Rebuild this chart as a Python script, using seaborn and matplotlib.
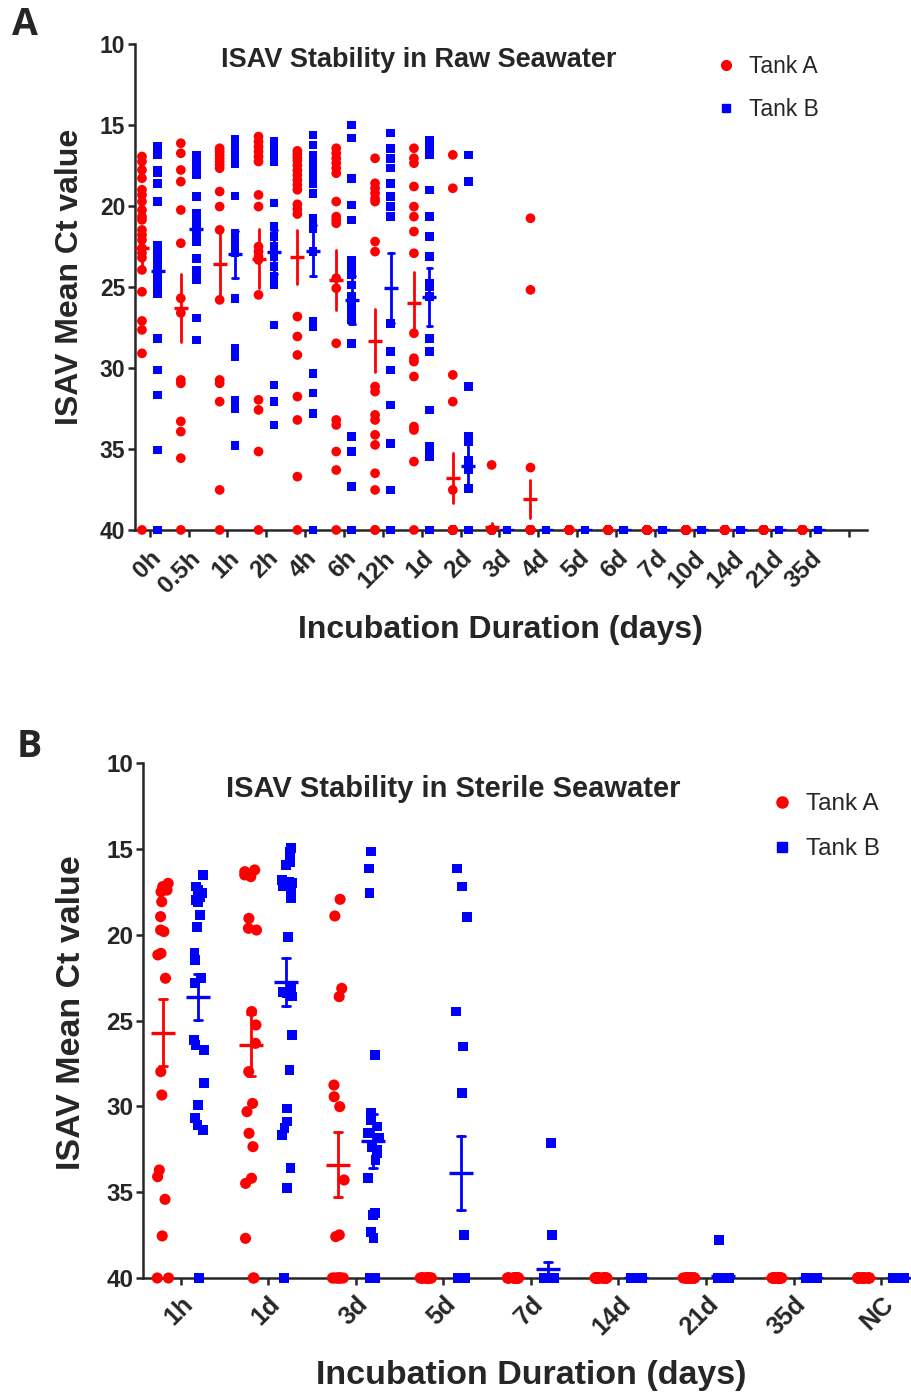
import matplotlib
matplotlib.use("Agg")
import matplotlib.pyplot as plt
from matplotlib.lines import Line2D
import numpy as np
import pandas as pd
import seaborn as sns

# --- data (Ct values, 40 = not detected) ---
raw_times = ["0h", "0.5h", "1h", "2h", "4h", "6h", "12h", "1d", "2d", "3d", "4d",
             "5d", "6d", "7d", "10d", "14d", "21d", "35d"]

raw_tank_a = {
    "0h": [16.95, 17.26, 17.78, 18.29, 19.0, 19.32, 19.73, 20.25, 20.66, 20.86, 21.48,
           21.79, 22.1, 22.6, 22.9, 23.2, 23.95, 25.3, 27.1, 27.65, 29.1, 40],
    "0.5h": [16.13, 16.75, 17.78, 18.5, 20.25, 22.3, 25.7, 26.6, 30.74, 30.95, 33.3,
             33.93, 35.57, 40],
    "1h": [16.44, 16.64, 16.85, 17.06, 17.26, 17.47, 17.67, 19.11, 20.04, 21.48, 25.8,
           30.74, 30.95, 32.08, 37.53, 40],
    "2h": [15.72, 16.03, 16.34, 16.64, 16.95, 17.26, 19.32, 20.04, 22.51, 22.82, 23.13,
           23.33, 25.49, 31.97, 32.59, 35.16, 40],
    "4h": [16.6, 16.8, 17.0, 17.2, 17.5, 17.8, 18.1, 18.4, 18.7, 19.0, 19.9, 20.2, 20.5,
           26.83, 28.06, 29.2, 31.77, 33.21, 36.71, 40],
    "6h": [16.44, 16.75, 17.06, 17.36, 17.67, 17.98, 19.73, 20.66, 20.86, 21.07, 24.46,
           25.08, 28.48, 33.21, 33.52, 35.16, 36.3, 40],
    "12h": [17.06, 18.6, 18.91, 19.22, 19.53, 19.73, 22.2, 22.82, 31.15, 31.46, 32.9,
            33.21, 34.13, 34.75, 36.5, 37.53, 40, 40],
    "1d": [16.44, 17.06, 17.36, 18.8, 20.04, 20.66, 21.58, 22.92, 27.86, 29.4, 29.61,
           30.53, 33.62, 33.83, 35.78, 40],
    "2d": [16.85, 18.91, 30.43, 32.08, 37.53] + [40] * 15,
    "3d": [35.99] + [40] * 19,
    "4d": [20.76, 25.18, 36.15] + [40] * 17,
    "5d": [40] * 20,
    "6d": [40] * 20,
    "7d": [40] * 20,
    "10d": [40] * 20,
    "14d": [40] * 20,
    "21d": [40] * 20,
    "35d": [40] * 20,
}

raw_tank_b = {
    "0h": [16.34, 16.64, 16.85, 17.78, 17.98, 18.6, 19.73, 22.4, 22.71, 23.13, 23.54,
           23.95, 24.36, 24.77, 24.98, 25.4, 28.17, 30.12, 31.66, 35.06, 40],
    "0.5h": [16.85, 17.16, 17.47, 17.78, 18.09, 19.42, 20.45, 20.76, 21.17, 21.48, 21.79,
             22.2, 23.23, 23.95, 24.26, 24.57, 26.93, 28.27],
    "1h": [15.9, 16.2, 16.5, 16.8, 17.1, 17.4, 19.4, 21.7, 22.0, 22.3, 22.6, 22.9, 25.7,
           28.8, 29.3, 32.0, 32.5, 34.8],
    "2h": [16.03, 16.34, 16.64, 16.95, 17.26, 19.83, 21.27, 21.89, 22.51, 23.13, 23.74,
           24.36, 24.88, 27.34, 31.05, 32.08, 33.52],
    "4h": [15.62, 16.23, 16.85, 17.16, 17.47, 17.88, 18.29, 18.6, 19.22, 20.76, 21.07,
           21.38, 22.82, 27.14, 27.45, 30.33, 31.56, 32.8, 40],
    "6h": [15.0, 15.8, 18.29, 19.94, 20.86, 23.33, 23.64, 23.95, 24.26, 24.88, 25.6, 25.9,
           26.2, 26.52, 27.04, 28.48, 34.24, 35.16, 37.32, 40],
    "12h": [15.51, 16.44, 17.06, 17.67, 18.6, 19.42, 20.04, 20.66, 27.24, 28.99, 30.12,
            32.28, 34.65, 37.53, 40],
    "1d": [15.92, 16.23, 16.54, 16.85, 19.01, 20.66, 21.89, 23.13, 24.77, 24.98, 25.6,
           28.17, 28.99, 32.59, 34.85, 35.16, 35.47, 40],
    "2d": [16.85, 18.5, 31.15, 34.24, 34.55, 35.68, 35.99, 36.3, 37.43] + [40] * 11,
    "3d": [40] * 20,
    "4d": [40] * 20,
    "5d": [40] * 20,
    "6d": [40] * 20,
    "7d": [40] * 20,
    "10d": [40] * 20,
    "14d": [40] * 20,
    "21d": [40] * 20,
    "35d": [40] * 20,
}

sterile_times = ["1h", "1d", "3d", "5d", "7d", "14d", "21d", "35d", "NC"]

sterile_tank_a = {
    "1h": [17.01, 17.2, 17.4, 17.5, 18.08, 18.95, 19.73, 19.82, 21.09, 21.18, 22.54,
           27.98, 29.34, 33.71, 34.1, 35.42, 37.55, 40, 40],
    "1d": [16.23, 16.33, 16.43, 16.52, 16.62, 19.05, 19.63, 19.73, 24.48, 25.26, 26.33,
           27.98, 29.83, 30.31, 31.57, 32.35, 34.19, 34.49, 37.69, 40, 40],
    "3d": [17.94, 18.91, 23.13, 23.61, 28.76, 29.44, 30.02, 34.29, 37.49, 37.59] + [40] * 8,
    "5d": [40] * 20,
    "7d": [40] * 20,
    "14d": [40] * 20,
    "21d": [40] * 20,
    "35d": [40] * 20,
    "NC": [40] * 20,
}

sterile_tank_b = {
    "1h": [16.52, 17.2, 17.4, 17.59, 17.79, 17.98, 18.08, 18.85, 19.57, 21.09, 21.48,
           22.54, 22.83, 26.14, 26.43, 26.72, 28.66, 29.92, 30.7, 31.09, 31.38, 40],
    "1d": [14.97, 15.2, 15.46, 15.75, 15.94, 16.81, 16.9, 17.01, 17.1, 17.2, 17.4, 17.59,
           17.88, 20.12, 23.13, 23.32, 23.4, 23.6, 25.84, 27.88, 30.12, 30.89, 31.28,
           31.67, 33.61, 34.78, 40],
    "3d": [15.16, 16.14, 17.59, 27.01, 30.41, 30.8, 31.18, 31.57, 31.86, 32.35, 32.54,
           32.74, 33.13, 34.19, 36.23, 36.33, 37.3, 37.69] + [40] * 4,
    "5d": [16.14, 17.2, 18.95, 24.48, 26.52, 29.24, 37.49] + [40] * 11,
    "7d": [32.15, 37.49] + [40] * 18,
    "14d": [40] * 20,
    "21d": [37.79] + [40] * 19,
    "35d": [40] * 20,
    "NC": [40] * 20,
}

tanks = ["Tank A", "Tank B"]
colors = {"Tank A": "#FF0000", "Tank B": "#0000FF"}
hidden = (1.0, 1.0, 1.0, 0.0)


def to_long(times, tank_a, tank_b):
    rows = []
    for tank, d in zip(tanks, [tank_a, tank_b]):
        for t in times:
            for v in d[t]:
                rows.append({"time": t, "tank": tank, "ct": v})
    return pd.DataFrame(rows)


sns.set_style("ticks")
plt.rcParams["font.family"] = ["Liberation Sans", "DejaVu Sans"]
plt.rcParams["font.weight"] = "bold"

np.random.seed(3)

fig = plt.figure(figsize=(9.12, 13.99), dpi=100)
ax1 = fig.add_axes([0.148, 0.6212, 0.8026, 0.3474])
ax2 = fig.add_axes([0.1568, 0.0865, 0.841, 0.3681])


def draw_panel(ax, df, times, jitter, pt_size, mean_size, caps):
    for tank, marker, sz in [("Tank A", "o", pt_size), ("Tank B", "s", pt_size * 0.88)]:
        sns.stripplot(data=df[df.tank == tank], x="time", y="ct", hue="tank",
                      order=times, hue_order=tanks, palette=colors, dodge=True,
                      jitter=jitter, marker=marker, size=sz, linewidth=0,
                      legend=False, clip_on=False, zorder=3, ax=ax)
    # mean +/- SEM, one pass per tank so the cap width can differ
    for tank in tanks:
        pal = {t: (colors[t] if t == tank else hidden) for t in tanks}
        sns.pointplot(data=df, x="time", y="ct", hue="tank", order=times,
                      hue_order=tanks, palette=pal, dodge=0.4, errorbar="se",
                      linestyle="none", marker="_", markersize=mean_size,
                      markeredgewidth=2.4, capsize=caps[tank],
                      err_kws={"linewidth": 2.0, "zorder": 4}, legend=False,
                      zorder=4, ax=ax)


def style_axis(ax, times, xlim, title, title_xy, leg_xy, xlab_xy, ylab_xy, fs):
    ax.set_ylim(40, 10)
    ax.set_yticks([10, 15, 20, 25, 30, 35, 40])
    ax.set_xlim(*xlim)
    nt = int(np.floor(xlim[1]))
    ax.set_xticks(range(nt + 1))
    ax.set_xticklabels(times + [""] * (nt + 1 - len(times)), rotation=45, ha="right",
                       va="top", rotation_mode="anchor", fontsize=fs["xtick"],
                       fontweight="bold")
    for lab in ax.get_yticklabels():
        lab.set_fontsize(fs["tick"])
        lab.set_fontweight("bold")
    sns.despine(ax=ax)
    for s in ["left", "bottom"]:
        ax.spines[s].set_linewidth(1.8)
    ax.tick_params(axis="both", width=1.8, length=5, pad=2)
    ax.tick_params(axis="x", pad=fs["xpad"])
    ax.set_xlabel("Incubation Duration (days)", fontsize=fs["label"], fontweight="bold")
    ax.set_ylabel("ISAV Mean Ct value", fontsize=fs["label"], fontweight="bold")
    ax.xaxis.set_label_coords(*xlab_xy)
    ax.yaxis.set_label_coords(*ylab_xy)
    ax.text(title_xy[0], title_xy[1], title, transform=ax.transAxes, ha="center",
            va="center", fontsize=fs["title"], fontweight="bold")
    handles = [Line2D([], [], marker="o", color=colors["Tank A"], linestyle="none",
                      markersize=fs["leg_marker"]),
               Line2D([], [], marker="s", color=colors["Tank B"], linestyle="none",
                      markersize=fs["leg_marker"] * 0.85)]
    ax.legend(handles, tanks, loc="center left", bbox_to_anchor=leg_xy, frameon=False,
              prop={"family": "Liberation Sans", "size": fs["legend"], "weight": "normal"},
              handletextpad=0.5, labelspacing=fs["spacing"], handlelength=1.0,
              borderaxespad=0)


raw_df = to_long(raw_times, raw_tank_a, raw_tank_b)
sterile_df = to_long(sterile_times, sterile_tank_a, sterile_tank_b)

draw_panel(ax1, raw_df, raw_times, jitter=False, pt_size=7, mean_size=10,
           caps={"Tank A": 0, "Tank B": 0.15})
style_axis(ax1, raw_times, (-0.38, 18.46), "ISAV Stability in Raw Seawater",
           (0.388, 0.967), (0.779, 0.909), (0.499, -0.175), (-0.068, 0.52),
           {"tick": 16.5, "xtick": 17.5, "xpad": 7, "label": 23, "title": 19.5,
            "legend": 16.5, "leg_marker": 7, "spacing": 0.9})

draw_panel(ax2, sterile_df, sterile_times, jitter=0.14, pt_size=8, mean_size=17,
           caps={"Tank A": 0.09, "Tank B": 0.09})
style_axis(ax2, sterile_times, (-0.43, 8.33), "ISAV Stability in Sterile Seawater",
           (0.404, 0.9495), (0.804, 0.876), (0.506, -0.16), (-0.073, 0.516),
           {"tick": 17.5, "xtick": 18, "xpad": 5, "label": 24.5, "title": 21,
            "legend": 17.5, "leg_marker": 8, "spacing": 0.95})

fig.text(0.013, 0.982, "A", fontsize=27, fontweight="bold", family="Open Sans",
         ha="left", va="center")
fig.text(0.018, 0.466, "B", fontsize=27, fontweight="bold", family="Open Sans",
         ha="left", va="center")

fig.savefig("out.png", dpi=100)
